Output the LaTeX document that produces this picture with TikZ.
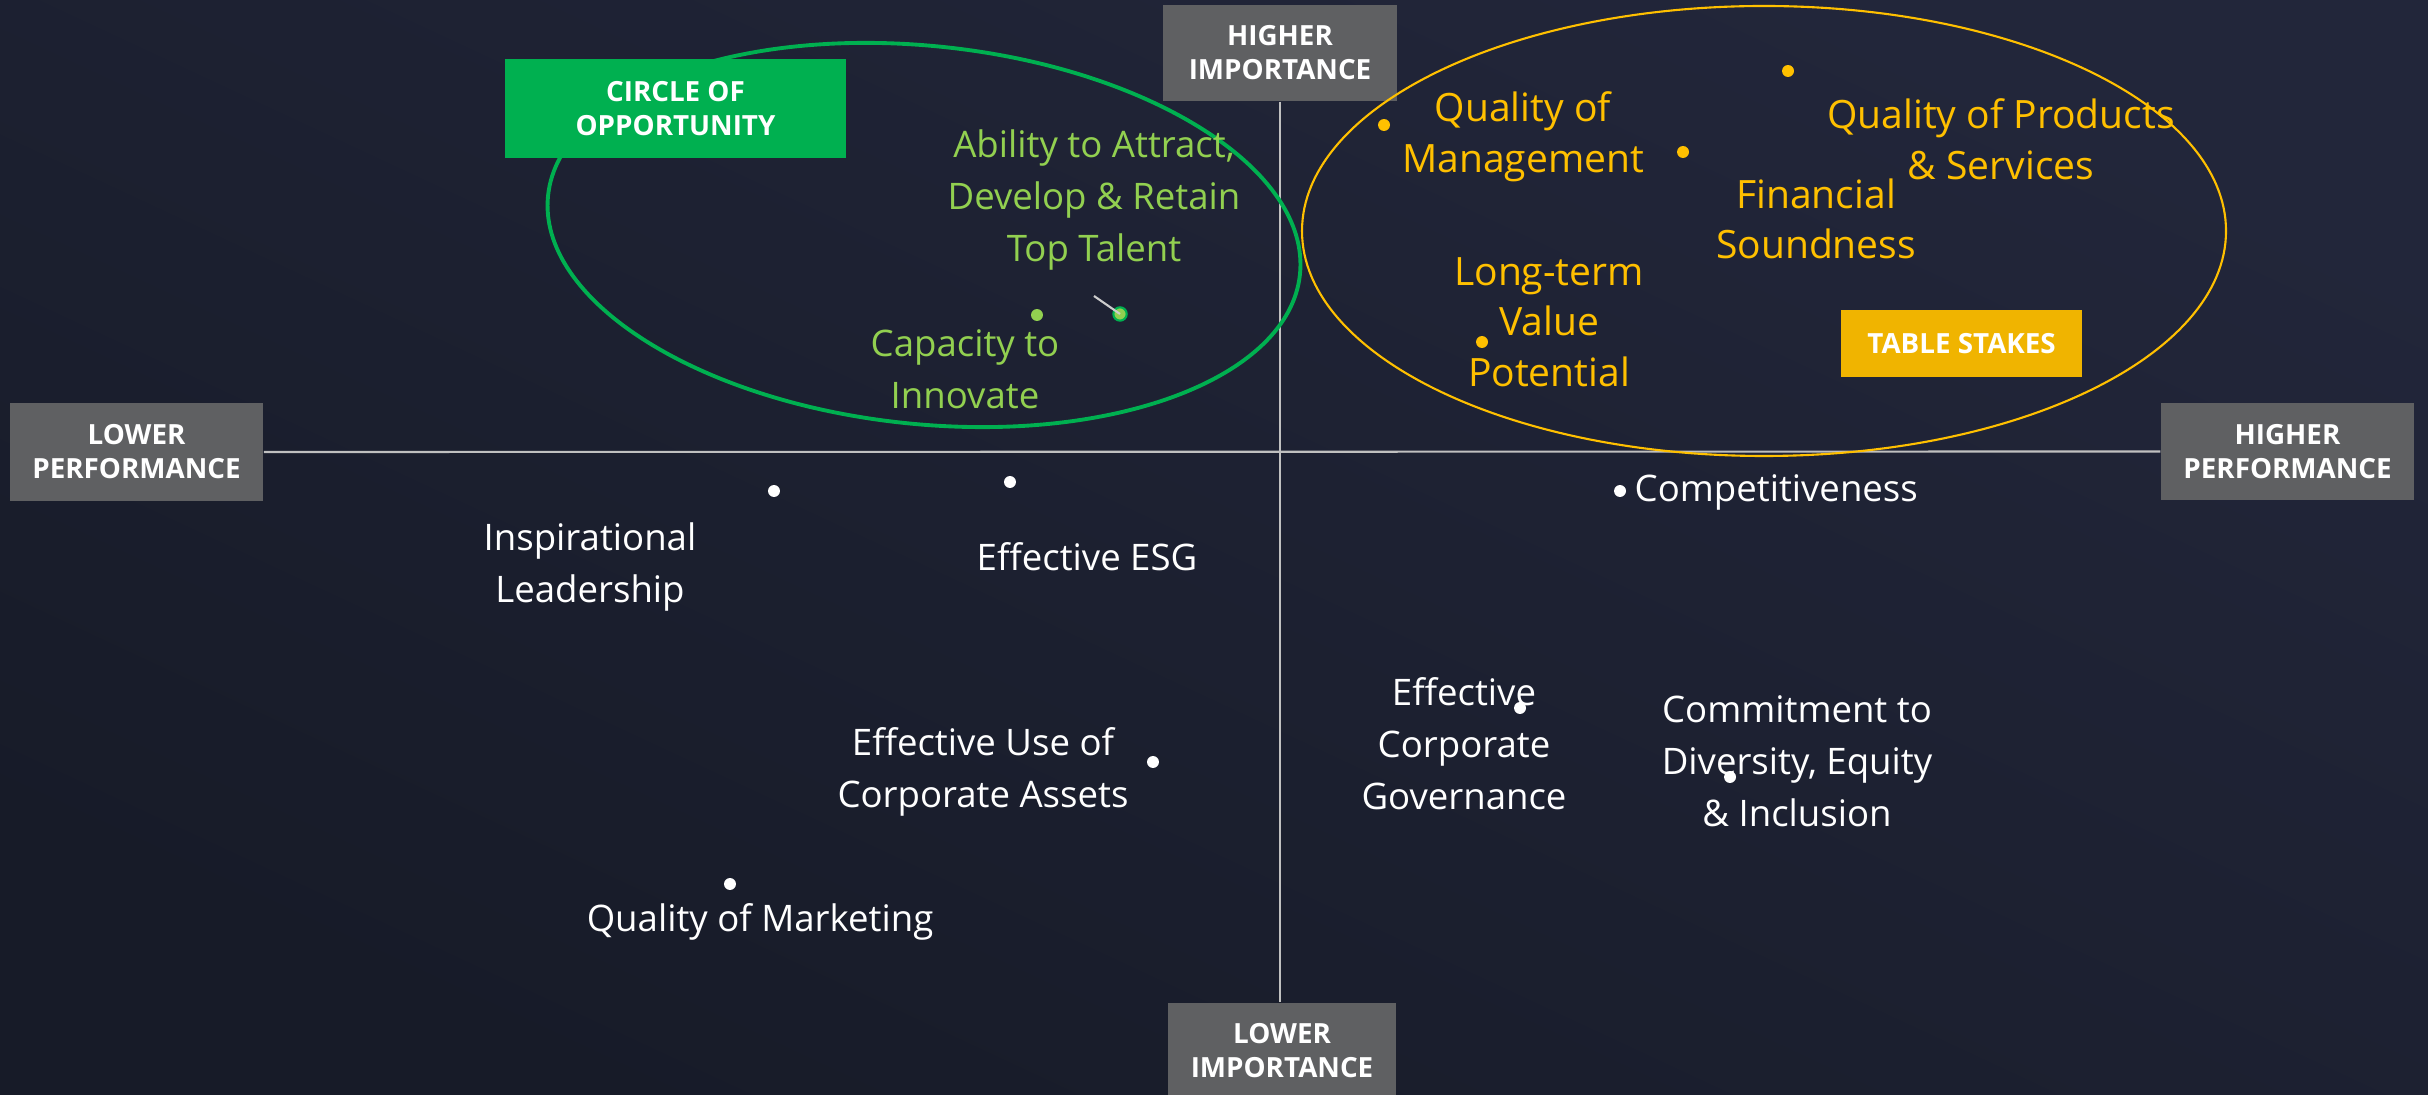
\documentclass[tikz,border=0pt]{standalone}
\usepackage{fontspec}
\setmainfont{Open Sans}
\usetikzlibrary{positioning}

\definecolor{bgtop}{HTML}{22263A}
\definecolor{bgbot}{HTML}{171B28}
\definecolor{boxgray}{HTML}{5F6062}
\definecolor{oppgreen}{HTML}{00B050}
\definecolor{lightgreen}{HTML}{92D050}
\definecolor{stakegold}{HTML}{FFC000}
\definecolor{stakebox}{HTML}{F0B400}
\definecolor{axisgray}{HTML}{C0C0C0}

\newcommand{\boxfont}{\bfseries\fontsize{7.9}{9.7}\selectfont}
\newcommand{\labelfont}{\fontsize{10.4}{14.8}\selectfont}
\newcommand{\stakefont}{\fontsize{11.1}{14.4}\selectfont}

\tikzset{
    axisbox/.style={fill=boxgray, text=white, font=\boxfont, align=center, inner sep=0pt},
    wlabel/.style={text=white, font=\labelfont, align=center, inner sep=0pt},
    glabel/.style={text=lightgreen, font=\labelfont, align=center, inner sep=0pt},
    ylabel/.style={text=stakegold, font=\stakefont, align=center, inner sep=0pt},
    wdot/.style={circle, fill=white, inner sep=0pt, minimum size=3.4pt},
    gdot/.style={circle, fill=lightgreen, inner sep=0pt, minimum size=3.4pt},
    ydot/.style={circle, fill=stakegold, inner sep=0pt, minimum size=3.4pt},
}

\begin{document}
\begin{tikzpicture}[x=0.01cm, y=-0.01cm]
    \useasboundingbox (0,0) rectangle (2428,1095);
    \clip (0,0) rectangle (2428,1095);
    \shade[top color=bgtop, bottom color=bgbot, shading angle=-25] (0,0) rectangle (2428,1095);

    % axis boxes
    \node[axisbox, minimum width=2.53cm, minimum height=0.98cm] (lowperf) at (136.5,452) {LOWER\\PERFORMANCE};
    \node[axisbox, minimum width=2.53cm, minimum height=0.97cm] (highperf) at (2287.5,451.5) {HIGHER\\PERFORMANCE};
    \node[axisbox, minimum width=2.34cm, minimum height=0.96cm] (highimp) at (1280,53) {HIGHER\\IMPORTANCE};
    \node[axisbox, minimum width=2.28cm, minimum height=0.96cm] (lowimp) at (1282,1051) {LOWER\\IMPORTANCE};

    \draw[axisgray, line width=0.6pt] (lowperf.east) -- (highperf.west);
    \draw[axisgray, line width=0.6pt] (highimp.south) -- (highimp.south |- lowimp.north);

    % circle of opportunity
    \draw[oppgreen, line width=1.1pt, rotate around={-6:(924,235)}] (924,235) ellipse [x radius=378, y radius=189];
    \node[axisbox, fill=oppgreen, minimum width=3.41cm, minimum height=0.99cm] (oppbox) at (675.5,108.5) {CIRCLE OF\\OPPORTUNITY};

    \node[glabel] (talentlbl) at (1094,200) {Ability to Attract,\\Develop \& Retain\\Top Talent};
    \node[glabel] (innovlbl) at (965,369) {Capacity to\\Innovate};
    \node[gdot] (innovdot) at (1037,315) {};
    \node[gdot, draw=oppgreen, line width=0.6pt, minimum size=3.8pt] (talentdot) at (1120,314) {};
    \coordinate (talentlead) at (1094,296);
    \draw[axisgray!80, line width=0.6pt] (talentlead) -- (talentdot.center);

    % table stakes
    \draw[stakegold, line width=0.6pt] (1764,231) ellipse [x radius=462, y radius=225];
    \node[axisbox, fill=stakebox, minimum width=2.41cm, minimum height=0.67cm] (stakebox) at (1961.5,343.5) {TABLE STAKES};

    \node[ylabel] (mgmtlbl) at (1523,137) {Quality of\\Management};
    \node[ylabel] (prodlbl) at (2001,139) {Quality of Products\\\& Services};
    \node[ylabel] (finlbl) at (1816,219) {Financial\\Soundness};
    \node[ylabel] (valuelbl) at (1549,322) {Long-term\\Value\\Potential};
    \node[ydot] (mgmtdot) at (1384,125) {};
    \node[ydot] (findot) at (1683,152) {};
    \node[ydot] (proddot) at (1788,71) {};
    \node[ydot] (valuedot) at (1482,342) {};

    % remaining attributes
    \node[wlabel] (inspirlbl) at (590,567) {Inspirational\\Leadership};
    \node[wlabel] (esglbl) at (1087,557) {Effective ESG};
    \node[wlabel] (assetlbl) at (983,772) {Effective Use of\\Corporate Assets};
    \node[wlabel] (mktlbl) at (760,922) {Quality of Marketing};
    \node[wlabel, anchor=west] (complbl) at (1634,492) {Competitiveness};
    \node[wlabel] (govlbl) at (1464,744) {Effective\\Corporate\\Governance};
    \node[wlabel] (deilbl) at (1797,761) {Commitment to\\Diversity, Equity\\\& Inclusion};

    \node[wdot] (inspirdot) at (774,491) {};
    \node[wdot] (esgdot) at (1010,482) {};
    \node[wdot] (compdot) at (1620,491) {};
    \node[wdot] (assetdot) at (1153,762) {};
    \node[wdot] (mktdot) at (730,884) {};
    \node[wdot] (govdot) at (1520,708) {};
    \node[wdot] (deidot) at (1730,777) {};
\end{tikzpicture}
\end{document}
